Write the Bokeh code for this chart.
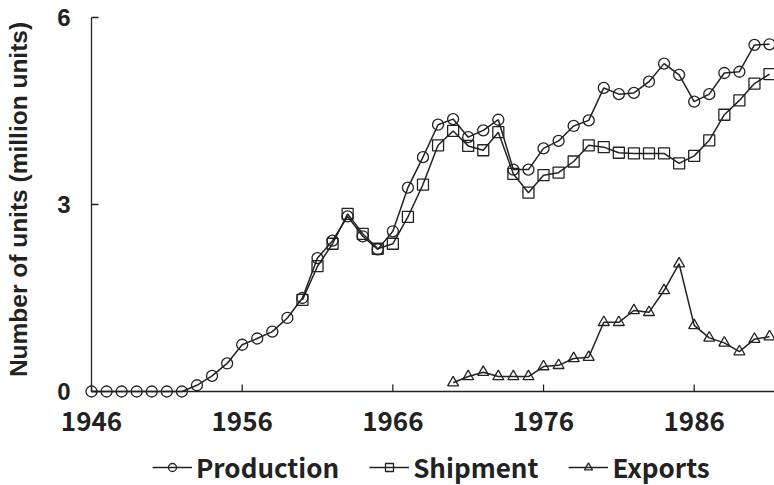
import math
from bokeh.plotting import figure
from bokeh.models import Range1d, Legend, LegendItem
from bokeh.core.properties import value
from bokeh.embed import file_html
from bokeh.resources import INLINE

# ---- data (million units) ----
prod_years = list(range(1946, 1992))
production = [0, 0, 0, 0, 0, 0, 0, 0.10, 0.25, 0.45,
              0.75, 0.85, 0.96, 1.18, 1.50, 2.14, 2.42, 2.81, 2.49, 2.28,
              2.57, 3.27, 3.76, 4.28, 4.37, 4.08, 4.19, 4.36, 3.56, 3.56,
              3.90, 4.02, 4.26, 4.35, 4.87, 4.77, 4.79, 4.97, 5.26, 5.08,
              4.65, 4.77, 5.11, 5.13, 5.56, 5.57]

ship_years = list(range(1960, 1992))
shipment = [1.47, 2.01, 2.37, 2.85, 2.53, 2.29,
            2.37, 2.80, 3.32, 3.95, 4.18, 3.94, 3.87, 4.16, 3.49, 3.19,
            3.47, 3.51, 3.69, 3.95, 3.92, 3.83, 3.82, 3.82, 3.82, 3.66,
            3.78, 4.03, 4.44, 4.67, 4.94, 5.09]

exp_years = list(range(1970, 1992))
exports = [0.14, 0.24, 0.31, 0.24, 0.24, 0.24,
           0.40, 0.42, 0.53, 0.55, 1.11, 1.11, 1.30, 1.27, 1.62, 2.05,
           1.06, 0.86, 0.78, 0.64, 0.84, 0.88]

x_ticks = [1946, 1956, 1966, 1976, 1986]
x_tick_labels = ["1946", "1956", "1966", "1976", "1986"]
y_ticks = [0, 3, 6]
y_tick_labels = ["0", "3", "6"]
y_title = "Number of units (million units)"
series_names = ["Production", "Shipment", "Exports"]

# ---- layout (pixels) ----
W, H = 774, 485
AX_LEFT, AX_TOP, AX_BOTTOM = 91, 17, 391
X_END = 1991.33
TICK = 7

px_per_year = (W - AX_LEFT) / (X_END - x_ticks[0])
px_per_unit = (AX_BOTTOM - AX_TOP) / (y_ticks[-1] - y_ticks[0])
x_start = x_ticks[0] - AX_LEFT / px_per_year
y_top = y_ticks[-1] + AX_TOP / px_per_unit
y_bottom = y_ticks[0] - (H - AX_BOTTOM) / px_per_unit

INK = "#222222"
TICK_FONT = "Noto Sans CJK JP"
LABEL_FONT = "Liberation Sans"

p = figure(width=W, height=H,
           x_range=Range1d(x_start, X_END), y_range=Range1d(y_bottom, y_top),
           x_axis_location=None, y_axis_location=None,
           output_backend="svg", toolbar_location=None, min_border=0,
           background_fill_color="white", border_fill_color="white")
p.outline_line_color = None
p.grid.visible = False

# ---- axes drawn on the chart's own scales ----
nx, ny = len(x_ticks), len(y_ticks)
p.segment(x0=[x_ticks[0]], y0=[y_ticks[0]], x1=[X_END], y1=[y_ticks[0]],
          line_color=INK, line_width=1.3)
p.segment(x0=[x_ticks[0]], y0=[y_ticks[0]], x1=[x_ticks[0]], y1=[y_ticks[-1]],
          line_color=INK, line_width=1.3)
p.segment(x0=x_ticks, y0=[y_ticks[0]] * nx, x1=x_ticks,
          y1=[y_ticks[0] + TICK / px_per_unit] * nx,
          line_color=INK, line_width=1.3)
p.segment(x0=[x_ticks[0]] * ny, y0=y_ticks,
          x1=[x_ticks[0] + TICK / px_per_year] * ny, y1=y_ticks,
          line_color=INK, line_width=1.3)

p.text(x=x_ticks, y=[y_ticks[0]] * nx, text=x_tick_labels, y_offset=30,
       text_align="center", text_baseline="middle", text_color=INK,
       text_font=value(TICK_FONT), text_font_style="bold",
       text_font_size=value("26px"))
p.text(x=[x_ticks[0]] * ny, y=y_ticks, text=y_tick_labels, x_offset=-21,
       text_align="right", text_baseline="middle", text_color=INK,
       text_font=value(LABEL_FONT), text_font_style="bold",
       text_font_size=value("24px"))
p.text(x=[x_ticks[0]], y=[(y_ticks[0] + y_ticks[-1]) / 2], text=[y_title],
       x_offset=-73, y_offset=-5, angle=math.pi / 2,
       text_align="center", text_baseline="middle", text_color=INK,
       text_font=value(LABEL_FONT), text_font_style="bold",
       text_font_size=value("24.5px"))

# ---- series ----
MS = 11
l1 = p.line(prod_years, production, line_color=INK, line_width=1.5)
m1 = p.scatter(prod_years, production, marker="circle", size=MS,
               line_color=INK, line_width=1.3, fill_alpha=0)
l2 = p.line(ship_years, shipment, line_color=INK, line_width=1.5)
m2 = p.scatter(ship_years, shipment, marker="square", size=MS,
               line_color=INK, line_width=1.3, fill_alpha=0)
l3 = p.line(exp_years, exports, line_color=INK, line_width=1.5)
m3 = p.scatter(exp_years, exports, marker="triangle", size=MS,
               line_color=INK, line_width=1.3, fill_alpha=0)

legend = Legend(items=[LegendItem(label=series_names[0], renderers=[l1, m1]),
                       LegendItem(label=series_names[1], renderers=[l2, m2]),
                       LegendItem(label=series_names[2], renderers=[l3, m3])],
                orientation="horizontal", location=(152, 0),
                label_text_font=TICK_FONT, label_text_font_style="bold",
                label_text_font_size="26px", label_text_color=INK,
                glyph_width=40, glyph_height=20, label_standoff=4,
                spacing=30, padding=0, margin=0,
                border_line_color=None, background_fill_alpha=0)
p.add_layout(legend, "center")

open("out.html", "w").write(file_html(p, INLINE))
